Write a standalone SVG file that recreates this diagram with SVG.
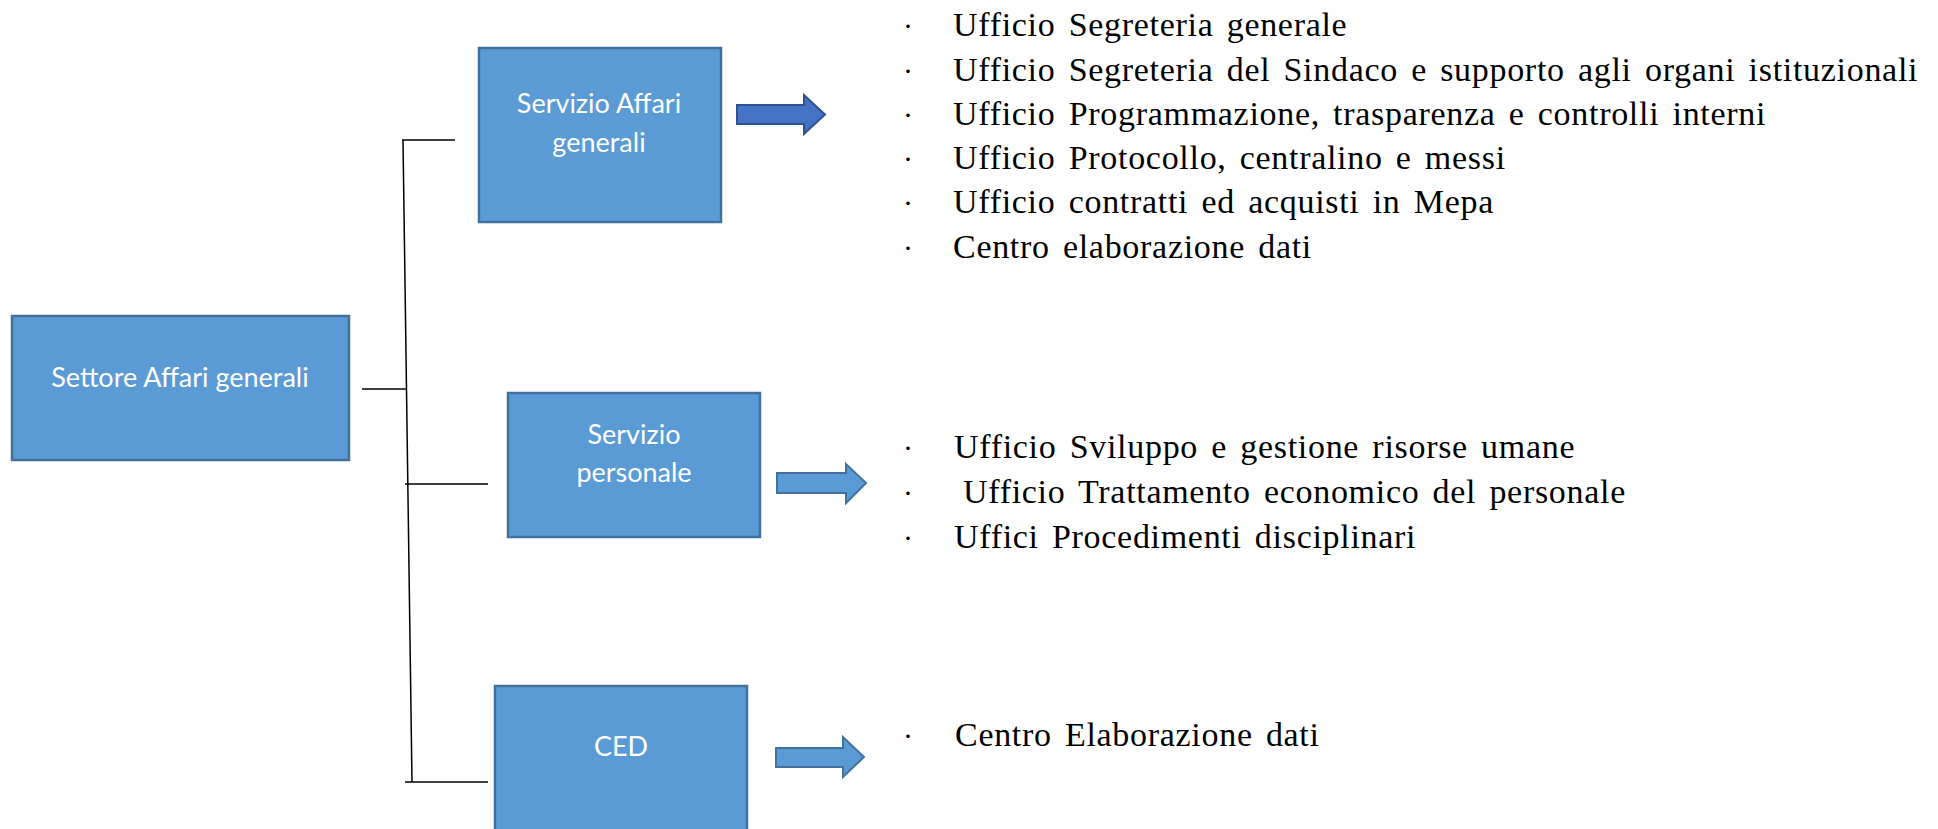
<svg xmlns="http://www.w3.org/2000/svg" width="1938" height="829" viewBox="0 0 1938 829">
  <style>
    .box { fill: #5B9BD5; stroke: #41719C; stroke-width: 2.5; }
    .lbl { font-family: Lato, "Open Sans", sans-serif; font-size: 27px; fill: #FFFFFF; text-anchor: middle; }
    .li { font-family: "Liberation Serif", "Times New Roman", serif; font-size: 34px; fill: #000000; letter-spacing: 0.7px; word-spacing: 4px; }
    .dot { font-family: "Liberation Serif", "Times New Roman", serif; font-size: 30px; fill: #000000; }
    .conn { stroke: #000000; stroke-width: 1.5; fill: none; }
    .arrA { fill: #4472C4; stroke: #2F528F; stroke-width: 2; }
    .arrB { fill: #5B9BD5; stroke: #41719C; stroke-width: 2; }
  </style>

  <g id="connectors">
    <line class="conn" x1="403" y1="140" x2="412" y2="782"/>
    <line class="conn" x1="402" y1="140" x2="455" y2="140"/>
    <line class="conn" x1="362" y1="389" x2="406" y2="389"/>
    <line class="conn" x1="405" y1="484" x2="488" y2="484" stroke="#404040"/>
    <line class="conn" x1="405" y1="782" x2="488" y2="782" stroke="#404040"/>
    <polygon class="arrA" points="737,105 804,105 804,95 825,114.5 804,134 804,124 737,124"/>
    <polygon class="arrB" points="777,473 846,473 846,464 866,483 846,503 846,493 777,493"/>
    <polygon class="arrB" points="776,748 843,748 843,737 864,757 843,777 843,767 776,767"/>
  </g>

  <g id="settore">
    <rect class="box" x="12" y="316" width="337" height="144"/>
    <text class="lbl" x="180" y="387">Settore Affari generali</text>
  </g>

  <g id="servizio-affari-generali">
    <rect class="box" x="479" y="48" width="242" height="174"/>
    <text class="lbl" x="599" y="113">Servizio Affari</text>
    <text class="lbl" x="599" y="152">generali</text>
  </g>

  <g id="servizio-personale">
    <rect class="box" x="508" y="393" width="252" height="144"/>
    <text class="lbl" x="634" y="444">Servizio</text>
    <text class="lbl" x="634" y="482">personale</text>
  </g>

  <g id="ced">
    <rect class="box" x="495" y="686" width="252" height="170"/>
    <text class="lbl" x="621" y="756">CED</text>
  </g>

  <g id="list-affari-generali">
    <text class="dot" x="903" y="36">·</text>
    <text class="li" x="953" y="36">Ufficio Segreteria generale</text>
    <text class="dot" x="903" y="80.5">·</text>
    <text class="li" x="953" y="80.5">Ufficio Segreteria del Sindaco e supporto agli organi istituzionali</text>
    <text class="dot" x="903" y="125">·</text>
    <text class="li" x="953" y="125">Ufficio Programmazione, trasparenza e controlli interni</text>
    <text class="dot" x="903" y="169">·</text>
    <text class="li" x="953" y="169">Ufficio Protocollo, centralino e messi</text>
    <text class="dot" x="903" y="213">·</text>
    <text class="li" x="953" y="213">Ufficio contratti ed acquisti in Mepa</text>
    <text class="dot" x="903" y="258">·</text>
    <text class="li" x="953" y="258">Centro elaborazione dati</text>
  </g>

  <g id="list-personale">
    <text class="dot" x="903" y="458">·</text>
    <text class="li" x="954" y="458">Ufficio Sviluppo e gestione risorse umane</text>
    <text class="dot" x="903" y="503">·</text>
    <text class="li" x="963" y="503">Ufficio Trattamento economico del personale</text>
    <text class="dot" x="903" y="548">·</text>
    <text class="li" x="954" y="548">Uffici Procedimenti disciplinari</text>
  </g>

  <g id="list-ced">
    <text class="dot" x="903" y="746">·</text>
    <text class="li" x="955" y="746">Centro Elaborazione dati</text>
  </g>
</svg>
